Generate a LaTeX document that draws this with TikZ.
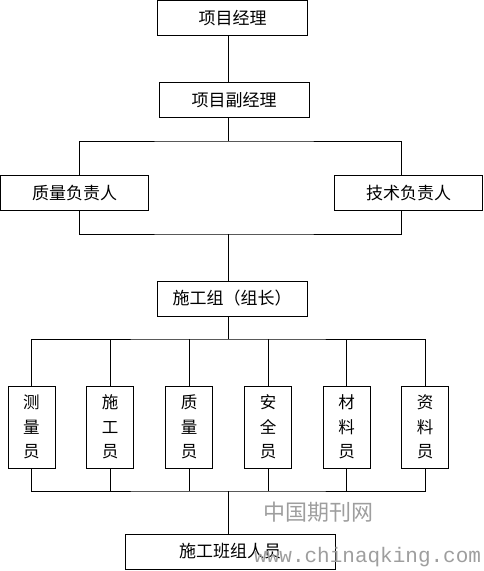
\documentclass[tikz,border=0pt]{standalone}
\usepackage{fontspec}
\setmainfont{Noto Sans CJK SC}
\newfontfamily\markfont{Liberation Mono}
\usetikzlibrary{positioning, calc}

\begin{document}
\begin{tikzpicture}[
  x=1pt, y=-1pt,
  post/.style={rectangle, draw, line width=0.9pt, minimum width=150pt, minimum height=35pt,
    inner sep=0pt, font=\fontsize{17}{20}\selectfont},
  staff/.style={rectangle, draw, line width=1pt, minimum width=47pt, minimum height=82pt,
    inner sep=0pt, align=center, font=\fontsize{16.5}{24.5}\selectfont},
  link/.style={line width=0.8pt},
  wmark/.style={text=black!38, inner sep=0pt}
]
  \useasboundingbox (0,0) rectangle (484,571);

  % management
  \node[post] (pm) at (232.5,18) {项目经理};
  \node[post] (dpm) at (234,100) {项目副经理};
  \node[post, minimum width=148pt] (qm) at (74.5,193) {质量负责人};
  \node[post, minimum width=148pt] (tm) at (408.5,193) {技术负责人};
  \node[post] (grp) at (232,298.5) {施工组（组长）};

  % staff
  \node[staff] (s1) at (31.5,427) {测\\量\\员};
  \node[staff] (s2) at (110,427) {施\\工\\员};
  \node[staff] (s3) at (189,427) {质\\量\\员};
  \node[staff] (s4) at (268,427) {安\\全\\员};
  \node[staff] (s5) at (346.5,427) {材\\料\\员};
  \node[staff] (s6) at (425,427) {资\\料\\员};

  \node[post, minimum width=210pt] (crew) at (230,551.5) {施工班组人员};

  % connectors
  \coordinate (spine) at (228,0);
  \coordinate (qtap) at (79,0);
  \coordinate (ttap) at (401,0);
  \coordinate (bus1) at (228,141);
  \coordinate (bus2) at (228,234);
  \coordinate (bus3) at (228,339);
  \coordinate (bus4) at (228,491);

  \draw[link] (pm.south -| spine) -- (dpm.north -| spine);
  \draw[link] (dpm.south -| spine) -- (bus1);
  \draw[link] (qm.north -| qtap) |- (bus1) -| (tm.north -| ttap);
  \draw[link] (qm.south -| qtap) |- (bus2) -| (tm.south -| ttap);
  \draw[link] (bus2) -- (grp.north -| spine);
  \draw[link] (grp.south -| spine) -- (bus3);
  \draw[link] (s1.north) |- (bus3) -| (s6.north);
  \draw[link] (s1.south) |- (bus4) -| (s6.south);
  \foreach \i in {2,...,5} {
    \draw[link] (s\i.north) -- (s\i.north |- bus3);
    \draw[link] (s\i.south) -- (s\i.south |- bus4);
  }
  \draw[link] (bus4) -- (crew.north -| spine);

  % watermark
  \node[wmark, font=\fontsize{22}{22}\selectfont] (wmcn) at (318,512) {中国期刊网};
  \node[wmark, anchor=west, font=\markfont\fontsize{21}{21}\selectfont] (wmurl) at (254,557) {www.chinaqking.com};
\end{tikzpicture}
\end{document}
